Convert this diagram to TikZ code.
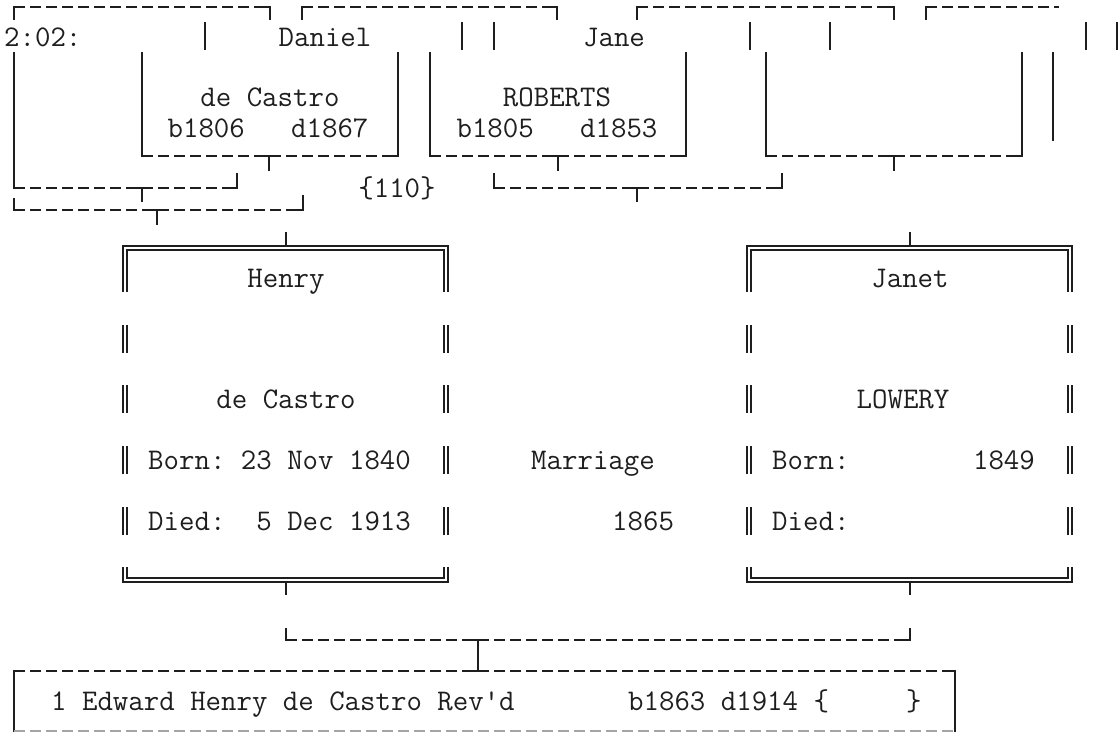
\documentclass[tikz,border=0pt]{standalone}
\usepackage{fontspec}
\usepackage{tikz}
\usetikzlibrary{positioning,calc}
\definecolor{chartInk}{RGB}{30,30,30}
\definecolor{chartGrey}{RGB}{165,165,165}

\begin{document}
\begin{tikzpicture}[x=1pt,y=-1pt,
    mono/.style={inner sep=0pt,text=chartInk,text height=18pt,text depth=0pt,
      font=\ttfamily\fontsize{30}{30}\selectfont},
    rule/.style={chartInk,line width=2.4pt},
    dashrule/.style={rule,dash pattern=on 11pt off 5pt},
    dblrule/.style={chartInk,line width=1.8pt,double=white,double distance=2.6pt}]
  \useasboundingbox (0,0) rectangle (1119,732);

  % great-grandparents, top edges
  \foreach \xl/\xr in {14/270,302/557,637/894}{
    \draw[dashrule] (\xl,7) -- (\xr,7);
    \draw[rule] (\xl,20) |- (\xl+9,7) (\xr-9,7) -| (\xr,20);
  }
  \draw[dashrule] (926,7) -- (1059,7);
  \draw[rule] (926,20) |- (935,7);
  \foreach \xb in {205,462,494,750,830,1086,1117}
    \draw[rule] (\xb,22) -- (\xb,50);

  % grandparents' boxes
  \foreach \xl/\xr/\xt in {142/398/269,430/686/558,766/1022/894}{
    \draw[dashrule] (\xl,156) -- (\xr,156);
    \draw[rule] (\xl,52) |- (\xl+9,156) (\xr-9,156) -| (\xr,52);
    \draw[rule] (\xt-7,156) -- (\xt+7,156) (\xt,156) -- (\xt,171);
  }
  \draw[rule] (1053,52) -- (1053,141);

  % brackets joining couples
  \foreach \xl/\xr/\yy/\sl/\sr/\xt/\yt in {14/237/188/52/173/142/202,
      14/303/210/198/195/157/225, 494/782/188/173/173/637/202,
      286/910/640/628/628/478/671}{
    \draw[dashrule] (\xl,\yy) -- (\xr,\yy);
    \draw[rule] (\xl,\sl) |- (\xl+9,\yy) (\xr-9,\yy) -| (\xr,\sr);
    \draw[rule] (\xt-7,\yy) -- (\xt+7,\yy) (\xt,\yy) -- (\xt,\yt);
  }
  \draw[rule] (470,671) -- (487,671);

  % parents, double boxes
  \foreach \xl/\xr in {125/446,749/1070}{
    \draw[dblrule] (\xl,292) -- (\xl,248) -- (\xr,248) -- (\xr,292);
    \draw[dblrule] (\xl,567) -- (\xl,580) -- (\xr,580) -- (\xr,567);
    \foreach \ym in {339,399,460,521}
      \draw[dblrule] (\xl,\ym-14) -- (\xl,\ym+14) (\xr,\ym-14) -- (\xr,\ym+14);
  }
  \coordinate (henryN) at (286,246);
  \coordinate (henryS) at (286,582);
  \coordinate (janetN) at (910,246);
  \coordinate (janetS) at (910,582);
  \draw[rule] (henryN) -- ++(0,-14) (janetN) -- ++(0,-14);
  \draw[rule] (henryS) -- ++(0,13) (janetS) -- ++(0,13);

  % child box
  \draw[dashrule] (14,671) -- (955,671);
  \draw[rule] (14,732) |- (23,671) (946,671) -| (955,732);
  \draw[chartGrey,line width=2pt,dash pattern=on 11pt off 5pt] (14,731) -- (955,731);

  % texts, top rows
  \node[mono,anchor=west] (clock) at (4,37) {2:02:};
  \node[mono] (danGiven) at (325,37) {Daniel};
  \node[mono] (janeGiven) at (614,37) {Jane};
  \node[mono] (danSurname) at (270,97) {de Castro};
  \node[mono] (danDates) at (268,128) {b1806~~~d1867};
  \node[mono] (janeSurname) at (557,97) {ROBERTS};
  \node[mono] (janeDates) at (557,128) {b1805~~~d1853};
  \node[mono] (famRef) at (397,188) {\{110\}};

  % texts, parents
  \node[mono] (henryGiven) at (286,278) {Henry};
  \node[mono] (henrySurname) at (286,399) {de Castro};
  \node[mono,anchor=west] (henryBorn) at (148,460) {Born:~23~Nov~1840};
  \node[mono,anchor=west] (henryDied) at (148,521) {Died:~~5~Dec~1913};
  \node[mono] (janetGiven) at (910,278) {Janet};
  \node[mono] (janetSurname) at (903,399) {LOWERY};
  \node[mono,anchor=west] (janetBorn) at (772,460) {Born:~~~~~~~~1849};
  \node[mono,anchor=west] (janetDied) at (772,521) {Died:};
  \node[mono,anchor=west] (marriage) at (531,460) {Marriage};
  \node[mono,anchor=west] (marriageYear) at (612,521) {1865};

  % texts, child
  \node[mono,anchor=west] (childName) at (51,701) {1~Edward~Henry~de~Castro~Rev\textquotesingle d};
  \node[mono,anchor=west] (childDates) at (628,701) {b1863~d1914~\{~~~~~\}};
\end{tikzpicture}
\end{document}
